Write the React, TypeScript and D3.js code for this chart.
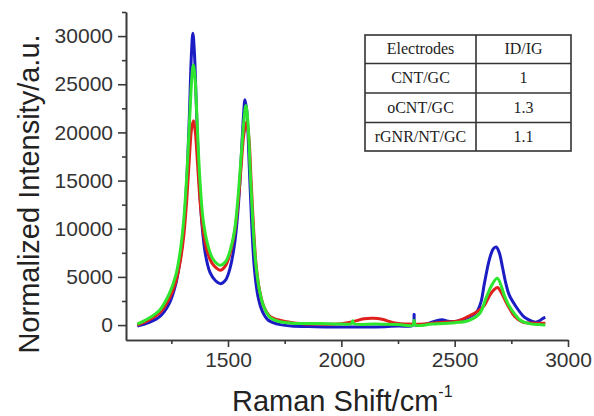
import { useEffect, useRef } from "react";
import * as d3 from "d3";

// Raman spectra
const blueShift = [1100, 1150, 1200, 1240, 1270, 1290, 1305, 1318, 1330, 1338, 1345, 1352, 1360, 1372, 1385, 1400, 1420, 1445, 1468, 1490, 1510, 1530, 1545, 1558, 1568, 1575, 1583, 1593, 1604, 1616, 1632, 1652, 1678, 1720, 1780, 1850, 1950, 2050, 2150, 2250, 2316, 2321, 2326, 2380, 2420, 2445, 2470, 2510, 2560, 2595, 2615, 2631, 2653, 2670, 2683, 2697, 2711, 2726, 2741, 2771, 2800, 2815, 2840, 2859, 2875, 2890, 2900];
const blueValues = [-100, 250, 900, 2200, 4300, 7000, 10200, 15000, 22000, 27800, 30300, 28200, 23000, 15500, 10500, 7400, 5500, 4600, 4300, 4700, 6000, 8600, 12200, 17200, 21600, 23400, 22200, 17000, 10800, 6000, 3000, 1400, 500, 100, -100, -150, -200, -200, -200, -100, 0, 1100, 0, 150, 450, 550, 400, 400, 800, 1300, 2300, 4300, 6800, 7900, 8100, 7500, 6000, 4300, 3100, 1900, 1000, 700, 400, 300, 450, 700, 800];

const redShift = [1100, 1150, 1200, 1240, 1270, 1290, 1305, 1318, 1330, 1340, 1348, 1356, 1365, 1378, 1392, 1410, 1430, 1450, 1467, 1490, 1510, 1530, 1545, 1558, 1570, 1582, 1592, 1602, 1613, 1625, 1640, 1660, 1685, 1720, 1760, 1800, 1900, 2000, 2050, 2100, 2140, 2180, 2230, 2300, 2380, 2450, 2510, 2560, 2600, 2630, 2655, 2675, 2689, 2703, 2720, 2740, 2765, 2800, 2850, 2900];
const redValues = [0, 500, 1300, 2700, 4500, 6700, 9300, 13000, 17500, 20500, 21200, 20000, 17000, 12500, 9500, 7500, 6400, 5900, 5700, 6200, 7500, 9800, 12800, 16500, 19800, 21100, 19500, 15000, 10000, 6000, 3500, 1800, 900, 550, 350, 200, 100, 150, 350, 650, 700, 600, 250, 100, 150, 300, 400, 900, 1400, 2000, 3100, 3700, 3900, 3500, 2700, 1800, 900, 300, 200, 200];

const greenShift = [1100, 1150, 1200, 1240, 1270, 1290, 1305, 1318, 1330, 1340, 1347, 1355, 1363, 1375, 1390, 1410, 1430, 1450, 1466, 1490, 1510, 1530, 1545, 1558, 1570, 1579, 1588, 1598, 1610, 1622, 1638, 1658, 1685, 1720, 1780, 1900, 2000, 2045, 2050, 2055, 2150, 2250, 2316, 2321, 2326, 2400, 2500, 2560, 2610, 2640, 2665, 2688, 2705, 2720, 2740, 2760, 2790, 2830, 2870, 2900];
const greenValues = [100, 700, 1600, 3200, 5200, 7800, 11000, 15500, 21000, 25500, 27000, 25500, 21500, 15500, 11000, 8400, 7000, 6400, 6200, 6600, 7800, 10000, 13500, 17500, 21200, 22800, 21000, 16000, 10500, 6500, 3700, 1900, 800, 400, 200, 150, 100, 150, 450, 150, 100, 50, 0, 500, 0, 100, 250, 450, 1200, 2900, 4200, 4850, 4100, 3000, 2000, 1300, 500, 150, 50, 0];

const yMajor = [0, 5000, 10000, 15000, 20000, 25000, 30000];
const yMinor = [2500, 7500, 12500, 17500, 22500, 27500, 32500];
const xMajor = [1500, 2000, 2500, 3000];
const xMinor = [1250, 1750, 2250, 2750];

const tableHeader = ["Electrodes", "ID/IG"];
const electrodes = ["CNT/GC", "oCNT/GC", "rGNR/NT/GC"];
const ratios = ["1", "1.3", "1.1"];

const App = () => {
    const svgRef = useRef(null);

    useEffect(() => {
        const width = 594;
        const height = 416;
        const svg = d3.select(svgRef.current);
        svg.selectAll("*").remove();
        svg.attr("width", width).attr("height", height);

        const x = d3.scaleLinear().domain([1050, 3000]).range([126, 568]);
        const y = d3.scaleLinear().domain([-1550, 32500]).range([340, 12]);

        const axisColor = "#3a3a3a";
        const tickFont = "'Liberation Sans', Arial, sans-serif";

        // minor ticks first, then major ticks with labels
        svg.append("g")
            .attr("transform", "translate(126,0)")
            .call(d3.axisLeft(y).tickValues(yMinor).tickSize(4).tickSizeOuter(0).tickFormat(() => ""));
        svg.append("g")
            .attr("transform", "translate(126,0)")
            .call(d3.axisLeft(y).tickValues(yMajor).tickSize(8).tickPadding(5).tickSizeOuter(0).tickFormat(d3.format("d")));
        svg.append("g")
            .attr("transform", "translate(0,340)")
            .call(d3.axisBottom(x).tickValues(xMinor).tickSize(4).tickSizeOuter(0).tickFormat(() => ""));
        svg.append("g")
            .attr("transform", "translate(0,340)")
            .call(d3.axisBottom(x).tickValues(xMajor).tickSize(7).tickPadding(5).tickSizeOuter(0).tickFormat(d3.format("d")));

        svg.selectAll(".domain, .tick line")
            .attr("stroke", axisColor)
            .attr("stroke-width", 1.6);
        svg.selectAll(".tick text")
            .attr("fill", "#333")
            .attr("font-size", 21)
            .attr("font-family", tickFont);

        // spectra
        const line = d3
            .line()
            .x((d) => x(d[0]))
            .y((d) => y(d[1]))
            .curve(d3.curveCatmullRom.alpha(0.5));

        const series = [
            { xs: blueShift, ys: blueValues, color: "#1c1cc4" },
            { xs: redShift, ys: redValues, color: "#e0201c" },
            { xs: greenShift, ys: greenValues, color: "#2fe62f" },
        ];
        series.forEach((s) => {
            svg.append("path")
                .datum(s.xs.map((v, i) => [v, s.ys[i]]))
                .attr("fill", "none")
                .attr("stroke", s.color)
                .attr("stroke-width", 3)
                .attr("stroke-linejoin", "round")
                .attr("d", line);
        });

        // axis titles
        svg.append("text")
            .attr("transform", "translate(39,194) rotate(-90)")
            .attr("text-anchor", "middle")
            .attr("font-family", tickFont)
            .attr("font-size", 29)
            .attr("fill", "#222")
            .text("Normalized Intensity/a.u.");

        const xt = svg.append("text")
            .attr("x", 232)
            .attr("y", 411)
            .attr("font-family", tickFont)
            .attr("font-size", 29)
            .attr("fill", "#222");
        xt.append("tspan").text("Raman Shift/cm");
        xt.append("tspan").attr("font-size", 16).attr("dy", -14).text("-1");

        // inset table
        const tx = d3.scaleOrdinal().domain(tableHeader).range([365, 476]);
        const colW = [111, 95];
        const rowEdges = [35, 63.5, 93, 122.5, 151];
        const rows = [tableHeader, ...electrodes.map((e, i) => [e, ratios[i]])];
        const table = svg.append("g");
        table.append("rect")
            .attr("x", 365).attr("y", 35).attr("width", 206).attr("height", 116)
            .attr("fill", "white").attr("stroke", "#333").attr("stroke-width", 1.6);
        table.append("line")
            .attr("x1", 476).attr("x2", 476).attr("y1", 35).attr("y2", 151)
            .attr("stroke", "#333").attr("stroke-width", 1.6);
        rowEdges.slice(1, -1).forEach((ry) => {
            table.append("line")
                .attr("x1", 365).attr("x2", 571).attr("y1", ry).attr("y2", ry)
                .attr("stroke", "#333").attr("stroke-width", 1.6);
        });
        rows.forEach((r, ri) => {
            r.forEach((cell, ci) => {
                table.append("text")
                    .attr("x", tx(tableHeader[ci]) + colW[ci] / 2)
                    .attr("y", (rowEdges[ri] + rowEdges[ri + 1]) / 2 + 5)
                    .attr("text-anchor", "middle")
                    .attr("font-family", "'Liberation Serif', 'Times New Roman', serif")
                    .attr("font-size", 16)
                    .attr("fill", "#222")
                    .text(cell);
            });
        });
    }, []);

    return <svg ref={svgRef} style={{ position: "absolute", left: 0, top: 0, background: "white" }}></svg>;
};

export default App;
